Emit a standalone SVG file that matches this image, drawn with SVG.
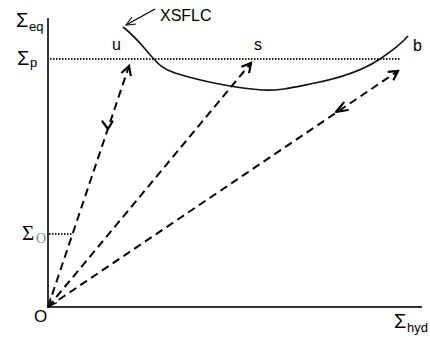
<svg xmlns="http://www.w3.org/2000/svg" width="430" height="339" viewBox="0 0 430 339">
<style>
.axis{stroke:#333;stroke-width:2;fill:none}
.dot{stroke:#222;stroke-width:2;stroke-dasharray:1.5 1.5;fill:none}
.dash{stroke:#000;stroke-width:2;stroke-dasharray:8 5;fill:none}
.curve{stroke:#111;stroke-width:1.6;fill:none}
.t{font-family:"Liberation Sans",Arial,sans-serif;fill:#000}
.sig{font-family:"Liberation Sans",Arial,sans-serif;font-size:20px;fill:#000}
.sub{font-family:"Liberation Sans",Arial,sans-serif;font-size:13px;fill:#000}
.ah{stroke:#000;stroke-width:2.2;fill:none;stroke-linecap:round;stroke-linejoin:round}
</style>
<defs>
<marker id="open" markerWidth="14" markerHeight="14" refX="10" refY="6" orient="auto" markerUnits="userSpaceOnUse">
<path d="M1,1 L10,6 L1,11" stroke="#000" stroke-width="2.2" fill="none"/>
</marker>
<marker id="thin" markerWidth="12" markerHeight="12" refX="10" refY="5" orient="auto-start-reverse" markerUnits="userSpaceOnUse">
<path d="M1,1 L10,5 L1,9" stroke="#222" stroke-width="1.2" fill="none"/>
</marker>
</defs>
<g id="axes">
<line class="axis" x1="48" y1="18" x2="48" y2="308"/>
<line class="axis" x1="47" y1="307" x2="422" y2="307"/>
</g>
<g id="levels">
<line class="dot" x1="50" y1="59" x2="401" y2="59"/>
<line class="dot" x1="49" y1="234" x2="72" y2="234"/>
</g>
<g id="xsflc">
<path class="curve" d="M123,27 C136,37 145,49 152,57 C158,64 163,69 175,73 C200,81 235,88 262,90 C280,91 295,87 315,83 C345,77 365,69 380,59 C392,51 401,44 408,36"/>
<line x1="155" y1="9" x2="126" y2="25" stroke="#000" stroke-width="1.3" marker-end="url(#thin)"/>
<text class="t" x="160" y="21" font-size="16">XSFLC</text>
</g>
<g id="connectors">
<line class="dash" x1="48" y1="307" x2="129" y2="66" marker-end="url(#open)"/>
<line class="dash" x1="48" y1="307" x2="251" y2="63" marker-end="url(#open)" marker-start="url(#thin)"/>
<line class="dash" x1="48" y1="307" x2="398" y2="71" marker-end="url(#open)"/>
<path class="ah" d="M102.5,121.5 L108,129 L112.5,121.5"/>
<path class="ah" d="M343.7,102.6 L336,112 L347.8,110"/>
</g>
<g id="labels">
<text class="sig" x="16" y="27">Σ</text><text class="sub" x="29" y="31">eq</text>
<text class="sig" x="17" y="65">Σ</text><text class="sub" x="30" y="67">p</text>
<text x="22" y="240" font-family="'Liberation Serif','Times New Roman',serif" font-size="21" fill="#000">Σ</text>
<text x="36" y="243" font-family="'Liberation Serif','Times New Roman',serif" font-size="14" fill="#888">O</text>
<text class="t" x="34" y="322" font-size="17">O</text>
<text class="sig" x="394" y="328">Σ</text><text class="sub" x="407" y="332">hyd</text>
<text class="t" x="112" y="50" font-size="16">u</text>
<text class="t" x="254" y="50" font-size="16">s</text>
<text class="t" x="413" y="51" font-size="16">b</text>
</g>
</svg>
